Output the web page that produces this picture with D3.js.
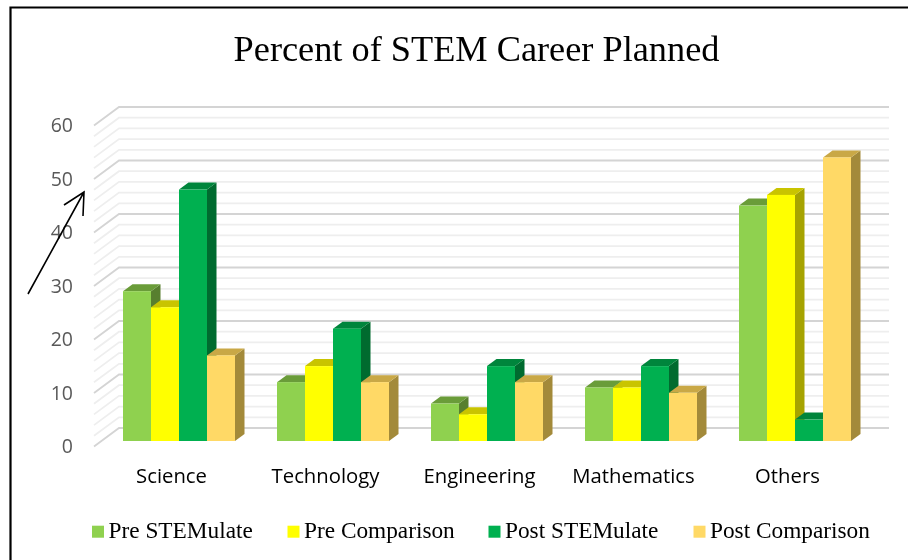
<!DOCTYPE html>
<html>
<head>
<meta charset="utf-8">
<script src="https://cdnjs.cloudflare.com/ajax/libs/d3/7.8.5/d3.min.js"></script>
<style>
html, body { margin: 0; padding: 0; background: #fff; }
svg { display: block; filter: blur(0.35px); }
</style>
</head>
<body>
<svg id="chart" width="908" height="560"></svg>
<script>
var categories = ["Science", "Technology", "Engineering", "Mathematics", "Others"]
var seriesNames = ["Pre STEMulate", "Pre Comparison", "Post STEMulate", "Post Comparison"]
var preStemulate = [28, 11, 7, 10, 44]
var preComparison = [25, 14, 5, 10, 46]
var postStemulate = [47, 21, 14, 14, 4]
var postComparison = [16, 11, 11, 9, 53]
var majorTicks = [0, 10, 20, 30, 40, 50, 60]
var gridTicks = [0, 2, 4, 6, 8, 10, 12, 14, 16, 18, 20, 22, 24, 26, 28, 30, 32, 34, 36, 38, 40, 42, 44, 46, 48, 50, 52, 54, 56, 58, 60]

var seriesValues = [preStemulate, preComparison, postStemulate, postComparison]
var frontColors = ["#8FD14F", "#FFFF00", "#00B050", "#FFD966"]
var topColors = ["#6A9C39", "#C9C400", "#00853C", "#C9A846"]
var sideColors = ["#587F2F", "#A6A300", "#006B2F", "#A38A3A"]
var legendX = [92, 287.5, 488.5, 693.5]

var svg = d3.select("#chart")

var x0 = d3.scaleBand().domain(categories).range([102, 872])
var x1 = d3.scaleBand().domain(seriesNames).range([21, 133])
var y = d3.scaleLinear().domain([0, 60]).range([441, 120])

var depthX = 9.5, depthY = 7      // bar depth
var wallLeft = 119, wallRight = 889, floorLeft = 94

// frame
svg.append("path")
    .attr("d", "M10.5,560V7.5H908")
    .attr("fill", "none")
    .attr("stroke", "#000")
    .attr("stroke-width", 2.2)

// back wall + side wall gridlines
var grid = svg.append("g").attr("fill", "none")
grid.selectAll("path")
    .data(gridTicks)
    .enter()
    .append("path")
    .attr("d", d => "M" + floorLeft + "," + (y(d) + 5.5) + "L" + wallLeft + "," + (y(d) - 13) + "H" + wallRight)
    .attr("stroke", d => d % 10 == 0 ? "#d4d4d4" : "#eeeeee")
    .attr("stroke-width", 1.8)

// bars, drawn left to right so that each one covers the side of the one before
var bars = []
categories.forEach((c, i) => {
    seriesNames.forEach((s, j) => {
        bars.push({cat: c, name: s, idx: j, value: seriesValues[j][i]})
    })
})

var bar = svg.append("g").selectAll("g")
    .data(bars)
    .enter()
    .append("g")
    .attr("transform", d => "translate(" + (x0(d.cat) + x1(d.name)) + ",0)")

bar.append("path")
    .attr("d", d => {
        var t = y(d.value), b = y(0), w = x1.bandwidth()
        return "M" + w + "," + t + "l" + depthX + "," + (-depthY) + "V" + (b - depthY) + "l" + (-depthX) + "," + depthY + "Z"
    })
    .attr("fill", d => sideColors[d.idx])

bar.append("path")
    .attr("d", d => {
        var t = y(d.value), w = x1.bandwidth()
        return "M0," + t + "l" + depthX + "," + (-depthY) + "h" + w + "l" + (-depthX) + "," + depthY + "Z"
    })
    .attr("fill", d => topColors[d.idx])

bar.append("rect")
    .attr("width", x1.bandwidth())
    .attr("y", d => y(d.value))
    .attr("height", d => y(0) - y(d.value))
    .attr("fill", d => frontColors[d.idx])

// value labels
svg.append("g").selectAll("text")
    .data(majorTicks)
    .enter()
    .append("text")
    .attr("x", 73)
    .attr("y", d => y(d) + 5.5)
    .attr("dy", "0.35em")
    .attr("text-anchor", "end")
    .style("font-family", "'Open Sans', sans-serif")
    .style("font-size", "19.5px")
    .style("fill", "#595959")
    .text(d => d)

// category labels
svg.append("g").selectAll("text")
    .data(categories)
    .enter()
    .append("text")
    .attr("x", d => x0(d) + x0.bandwidth() / 2 - 7.5)
    .attr("y", 483)
    .attr("text-anchor", "middle")
    .style("font-family", "'Open Sans', sans-serif")
    .style("font-size", "20.3px")
    .style("fill", "#000")
    .text(d => d)

// title
svg.append("text")
    .attr("x", 476.5)
    .attr("y", 61)
    .attr("text-anchor", "middle")
    .style("font-family", "'Liberation Serif', serif")
    .style("font-size", "36.3px")
    .style("fill", "#000")
    .text("Percent of STEM Career Planned")

// legend
var legend = svg.append("g").selectAll("g")
    .data(seriesNames)
    .enter()
    .append("g")
    .attr("transform", (d, i) => "translate(" + legendX[i] + ",0)")

legend.append("rect")
    .attr("y", 525.7)
    .attr("width", 12)
    .attr("height", 12)
    .attr("fill", (d, i) => frontColors[i])

legend.append("text")
    .attr("x", 16.5)
    .attr("y", 537.5)
    .style("font-family", "'Liberation Serif', serif")
    .style("font-size", "23.3px")
    .style("fill", "#000")
    .text(d => d)

// hand drawn arrow on top of the axis
svg.append("path")
    .attr("d", "M28,294L84,192M64,205L84,192L83,216")
    .attr("fill", "none")
    .attr("stroke", "#000")
    .attr("stroke-width", 1.6)
</script>
</body>
</html>
